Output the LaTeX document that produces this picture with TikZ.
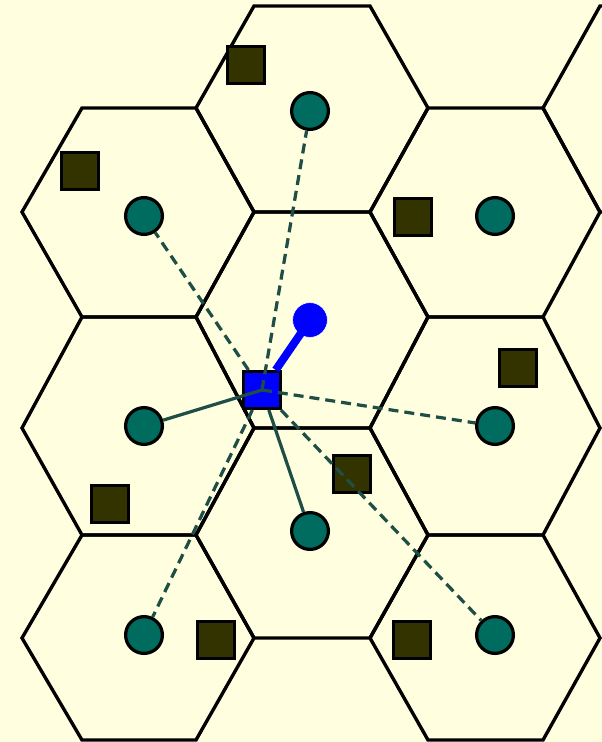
\documentclass[tikz,border=0pt]{standalone}
\usepackage{xcolor}
\usepackage{tikz}
\usetikzlibrary{positioning}
\definecolor{cellbg}{HTML}{FFFFE0}
\definecolor{bsteal}{HTML}{006B5F}
\definecolor{ueolive}{HTML}{333300}
\definecolor{linkgreen}{HTML}{1F4E46}

\begin{document}
\begin{tikzpicture}[
    x=0.025cm, y=-0.025cm,
    cell/.style={draw=black, line width=2.4pt, line join=miter},
    bs/.style={circle, draw=black, fill=bsteal, line width=2.3pt, minimum size=0.92cm, inner sep=0pt},
    serving/.style={circle, draw=white, fill=blue, line width=0.4pt, minimum size=0.87cm, inner sep=0pt},
    ue/.style={rectangle, draw=black, fill=#1, line width=2.3pt, minimum size=0.92cm, inner sep=0pt},
    ue/.default=ueolive,
    link/.style={draw=linkgreen, line width=2.3pt},
    interf/.style={link, dash pattern=on 0.25cm off 0.15cm},
]
    % Frame
    \fill[cellbg] (0,0) rectangle (602,742);
    \useasboundingbox (0,0) rectangle (602,742);
    \clip (0,0) rectangle (602,742);

    % Cells
    \foreach \xa/\xb/\xc/\xd/\ya/\yb/\yc in {
        22/82/196/254/108/212/317, 22/82/196/254/317/428/535, 22/82/196/254/535/638/740,
        196/254/370/428/6/108/212, 196/254/370/428/212/317/428, 196/254/370/428/428/535/638,
        370/428/543/600/108/212/317, 370/428/543/600/317/428/535, 370/428/543/600/535/638/740,
        543/600/716/774/6/108/212}
        \draw[cell] (\xa,\yb) -- (\xb,\ya) -- (\xc,\ya) -- (\xd,\yb) -- (\xc,\yc) -- (\xb,\yc) -- cycle;

    % Base stations
    \node[bs] (bs1) at (310,111) {};
    \node[bs] (bs2) at (144,216) {};
    \node[bs] (bs3) at (495,216) {};
    \node[bs] (bs4) at (144,426) {};
    \node[bs] (bs5) at (495,426) {};
    \node[bs] (bs6) at (310,531) {};
    \node[bs] (bs7) at (144,635) {};
    \node[bs] (bs8) at (495,635) {};
    \node[serving] (bs0) at (310,320) {};

    % Users
    \node[ue] (ue1) at (246,65) {};
    \node[ue] (ue2) at (80,171) {};
    \node[ue] (ue3) at (413,217) {};
    \node[ue] (ue4) at (518,368) {};
    \node[ue] (ue5) at (110,504) {};
    \node[ue] (ue6) at (352,474) {};
    \node[ue] (ue7) at (216,640) {};
    \node[ue] (ue8) at (412,640) {};
    \node[ue=blue] (ue0) at (262,390) {};

    % Links
    \draw[blue, line width=5.7pt] (ue0) -- (bs0.center);
    \draw[link] (ue0.center) -- (bs4);
    \draw[link] (ue0) -- (bs6);
    \foreach \b in {bs1, bs5}
        \draw[interf] (ue0.center) -- (\b);
    \foreach \b in {bs2, bs7, bs8}
        \draw[interf] (ue0) -- (\b);

\end{tikzpicture}
\end{document}
